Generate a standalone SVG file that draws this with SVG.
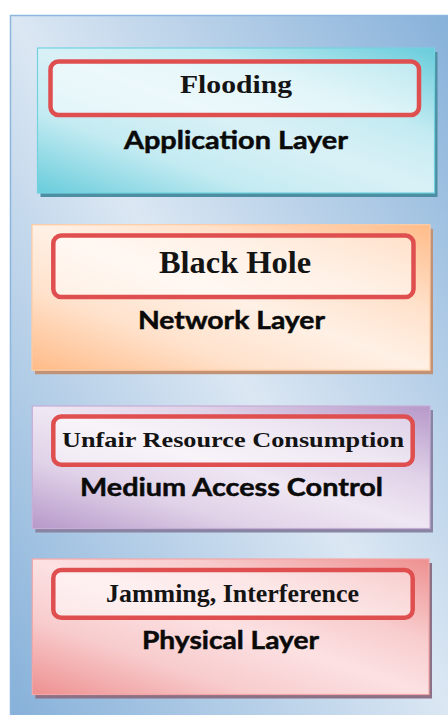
<svg xmlns="http://www.w3.org/2000/svg" width="448" height="715" viewBox="0 0 448 715">
  <style>
    .box { stroke-width: 1.2; }
    .attack { fill: #ffffff; fill-opacity: 0.5; stroke: #df4f4f; stroke-width: 4.5; }
    .attack-text { font-family: "Liberation Serif", "Times New Roman", serif; font-weight: bold; fill: #141414; text-anchor: middle; }
    .layer-text { font-family: Lato, "Liberation Sans", Arial, sans-serif; font-weight: bold; font-size: 25px; fill: #0a0a0a; stroke: #0a0a0a; stroke-width: 0.5; text-anchor: middle; }
  </style>
  <defs>
    <!-- diagonal fills: darker tint in the top-right and bottom-left corners, light band across the middle -->
    <linearGradient id="panelFill" x1="1" y1="0" x2="0" y2="1">
      <stop offset="0" stop-color="#85b0d9"/>
      <stop offset="0.5" stop-color="#dbe7f3"/>
      <stop offset="1" stop-color="#85b0d9"/>
    </linearGradient>
    <linearGradient id="tealFill" x1="1" y1="0" x2="0" y2="1">
      <stop offset="0" stop-color="#68ccdb"/>
      <stop offset="0.3" stop-color="#c4ebf2"/>
      <stop offset="0.5" stop-color="#d9f1f6"/>
      <stop offset="0.72" stop-color="#c4ebf2"/>
      <stop offset="1" stop-color="#68ccdb"/>
    </linearGradient>
    <linearGradient id="peachFill" x1="1" y1="0" x2="0" y2="1">
      <stop offset="0" stop-color="#ffbb88"/>
      <stop offset="0.3" stop-color="#ffe2cc"/>
      <stop offset="0.5" stop-color="#fff0e5"/>
      <stop offset="0.72" stop-color="#ffe2cc"/>
      <stop offset="1" stop-color="#ffbb88"/>
    </linearGradient>
    <linearGradient id="lilacFill" x1="1" y1="0" x2="0" y2="1">
      <stop offset="0" stop-color="#b698c9"/>
      <stop offset="0.3" stop-color="#e0d2e8"/>
      <stop offset="0.5" stop-color="#efe7f3"/>
      <stop offset="0.72" stop-color="#e0d2e8"/>
      <stop offset="1" stop-color="#b698c9"/>
    </linearGradient>
    <linearGradient id="roseFill" x1="1" y1="0" x2="0" y2="1">
      <stop offset="0" stop-color="#ee9090"/>
      <stop offset="0.3" stop-color="#f8cccd"/>
      <stop offset="0.5" stop-color="#fce1e3"/>
      <stop offset="0.72" stop-color="#f8cccd"/>
      <stop offset="1" stop-color="#ee9090"/>
    </linearGradient>
  </defs>

  <!-- background panel -->
  <rect id="panel" x="10.5" y="15.5" width="450" height="712" fill="url(#panelFill)" stroke="#8cb6de" stroke-width="1.5"/>

  <g id="application-layer">
    <rect x="40.5" y="52" width="397" height="145" fill="#4d8ea2"/>
    <rect class="box" x="37.5" y="48" width="397" height="145" fill="url(#tealFill)" stroke="#72d2e0"/>
    <g id="attack-flooding">
      <rect class="attack" x="50.5" y="61.5" width="368.5" height="53.5" rx="8"/>
      <text class="attack-text" x="236" y="93.3" font-size="26" textLength="112" lengthAdjust="spacingAndGlyphs">Flooding</text>
    </g>
    <text class="layer-text" x="236" y="149" textLength="224" lengthAdjust="spacingAndGlyphs">Application Layer</text>
  </g>

  <g id="network-layer">
    <rect x="35" y="228.7" width="398" height="145.5" fill="#c29276"/>
    <rect class="box" x="32" y="224.7" width="398" height="145.5" fill="url(#peachFill)" stroke="#ffcca4"/>
    <g id="attack-black-hole">
      <rect class="attack" x="53.3" y="235.5" width="360.2" height="61.6" rx="8"/>
      <text class="attack-text" x="235" y="272.7" font-size="31.5" textLength="152" lengthAdjust="spacingAndGlyphs">Black Hole</text>
    </g>
    <text class="layer-text" x="231.5" y="329" textLength="187" lengthAdjust="spacingAndGlyphs">Network Layer</text>
  </g>

  <g id="mac-layer">
    <rect x="35.3" y="410" width="397.7" height="122.5" fill="#8a84a3"/>
    <rect class="box" x="32.3" y="406" width="397.7" height="122.5" fill="url(#lilacFill)" stroke="#c6add6"/>
    <g id="attack-unfair-resource">
      <rect class="attack" x="53.3" y="416.5" width="359.4" height="48.3" rx="8"/>
      <text class="attack-text" x="233" y="446.7" font-size="21" textLength="342" lengthAdjust="spacingAndGlyphs">Unfair Resource Consumption</text>
    </g>
    <text class="layer-text" x="231.5" y="495.7" textLength="303" lengthAdjust="spacingAndGlyphs">Medium Access Control</text>
  </g>

  <g id="physical-layer">
    <rect x="35.3" y="563" width="396.7" height="135.5" fill="#8c7086"/>
    <rect class="box" x="32.3" y="559" width="396.7" height="135.5" fill="url(#roseFill)" stroke="#f3a6a6"/>
    <g id="attack-jamming">
      <rect class="attack" x="53.3" y="570" width="359.4" height="47.8" rx="8"/>
      <text class="attack-text" x="232.5" y="601.7" font-size="25" textLength="253" lengthAdjust="spacingAndGlyphs">Jamming, Interference</text>
    </g>
    <text class="layer-text" x="230.5" y="649.2" textLength="177" lengthAdjust="spacingAndGlyphs">Physical Layer</text>
  </g>
</svg>
